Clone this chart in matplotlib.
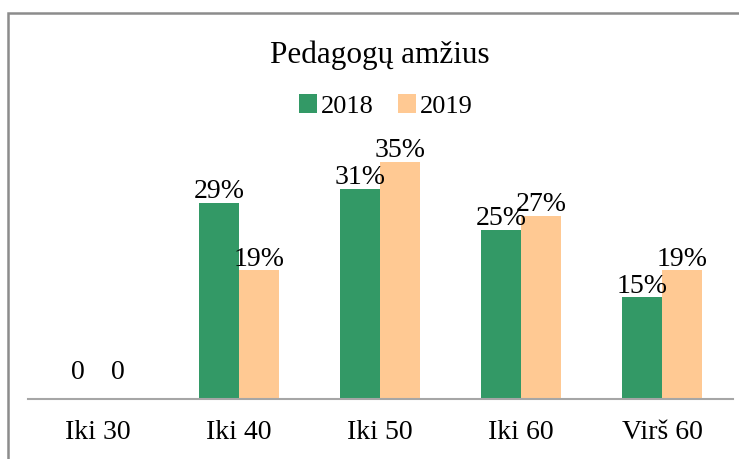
import matplotlib.pyplot as plt
import numpy as np
from matplotlib.patches import Rectangle

# === DATA ===
categories = ["Iki 30", "Iki 40", "Iki 50", "Iki 60", "Virš 60"]
years = ["2018", "2019"]
values_2018 = [0, 29, 31, 25, 15]
values_2019 = [0, 19, 35, 27, 19]

GREEN = "#339966"
ORANGE = "#FFC993"

plt.rcParams['font.family'] = ['Liberation Serif', 'DejaVu Serif']

fig = plt.figure(figsize=(7.39, 4.59), dpi=100)
ax = fig.add_axes([27.5 / 739, 1 - 399 / 459, 705 / 739, 271 / 459])

x = np.arange(len(categories))
w = 0.284
bars1 = ax.bar(x - w / 2, values_2018, w, color=GREEN, label=years[0])
bars2 = ax.bar(x + w / 2, values_2019, w, color=ORANGE, label=years[1])

# data labels: zeros shown as "0", the rest as percent
for bars, vals in ((bars1, values_2018), (bars2, values_2019)):
    for b, v in zip(bars, vals):
        txt = f"{v}%" if v else "0"
        off = 10 if v == 0 else -1
        ax.annotate(txt, (b.get_x() + b.get_width() / 2, v), xytext=(0, off),
                    textcoords="offset points", ha="center", va="bottom", fontsize=20)

ax.set_xlim(-0.5, len(categories) - 0.5)
ax.set_ylim(0, 40)
ax.set_xticks(x)
ax.set_xticklabels(categories, fontsize=20)
ax.tick_params(axis="x", length=0, pad=15)
ax.set_yticks([])
for s in ["top", "right", "left"]:
    ax.spines[s].set_visible(False)
ax.spines["bottom"].set_color("#a6a6a6")
ax.spines["bottom"].set_linewidth(1.5)

fig.text(380 / 739, 1 - 55 / 459, "Pedagogų amžius", ha="center", va="center", fontsize=22.5)
fig.legend(loc="center", bbox_to_anchor=(386 / 739, 1 - 106 / 459), ncol=2, frameon=False,
           fontsize=19, handlelength=0.7, handleheight=0.7, handletextpad=0.15,
           columnspacing=0.9)

# outer grey frame (cut off at right and bottom)
fig.patches.append(Rectangle((8 / 739, -0.1), 1.2, 1 - 13 / 459 + 0.1, transform=fig.transFigure,
                             fill=False, edgecolor="#8c8c8c", linewidth=1.8))

fig.savefig("out.png", dpi=100)
